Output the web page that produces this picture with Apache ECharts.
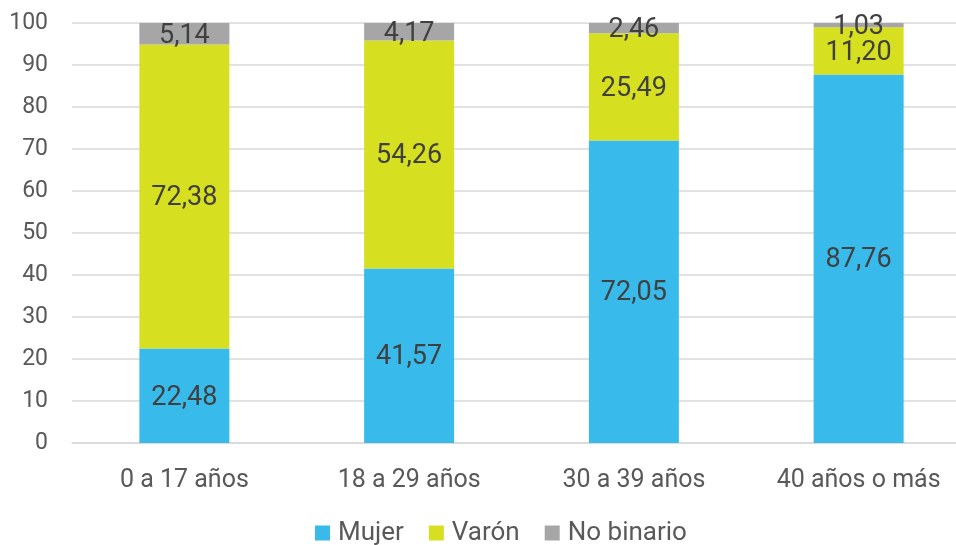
<!DOCTYPE html>
<html><head><meta charset="utf-8">
<script src="https://cdn.jsdelivr.net/npm/echarts@6/dist/echarts.min.js"></script>
<style>html,body{margin:0;padding:0;background:#fff;overflow:hidden}#c{width:971px;height:545px}</style>
</head><body><div id="c"></div>
<script>
const categories = ['0 a 17 años', '18 a 29 años', '30 a 39 años', '40 años o más'];
const mujer = [22.48, 41.57, 72.05, 87.76];
const varon = [72.38, 54.26, 25.49, 11.20];
const noBinario = [5.14, 4.17, 2.46, 1.03];
const yTicks = [0, 10, 20, 30, 40, 50, 60, 70, 80, 90, 100];

const font = 'Roboto, sans-serif';
const fmt = p => p.value.toFixed(2).replace('.', ',');
const lbl = {show: true, position: 'inside', offset: [0, 2], formatter: fmt, fontFamily: font, fontSize: 27, color: '#404040'};
function s(name, data, color) {
  return {name, type: 'bar', stack: 't', data, barWidth: 90, itemStyle: {color}, label: lbl, emphasis: {disabled: true}};
}
const chart = echarts.init(document.getElementById('c'));
chart.setOption({
  animation: false,
  grid: {left: 72, top: 23, right: 0, height: 420, containLabel: false},
  legend: {
    bottom: -6, left: 310, itemWidth: 15, itemHeight: 15, itemGap: 25, icon: 'rect',
    textStyle: {fontFamily: font, fontSize: 26, color: '#595959', padding: [0, 0, 0, 3]},
    data: ['Mujer', 'Varón', 'No binario']
  },
  xAxis: {
    type: 'category', data: categories,
    axisLine: {show: true, lineStyle: {color: '#d9d9d9', width: 1.5}},
    axisTick: {show: false},
    axisLabel: {fontFamily: font, fontSize: 25, color: '#595959', margin: 25}
  },
  yAxis: {
    type: 'value', min: yTicks[0], max: yTicks[yTicks.length - 1], interval: 10,
    axisLine: {show: false}, axisTick: {show: false},
    splitLine: {lineStyle: {color: '#d9d9d9', width: 1.5}},
    axisLabel: {fontFamily: font, fontSize: 23, color: '#595959', margin: 24}
  },
  series: [
    s('Mujer', mujer, '#38bbeb'),
    s('Varón', varon, '#d7df21'),
    s('No binario', noBinario, '#a6a6a6')
  ]
});
</script></body></html>
